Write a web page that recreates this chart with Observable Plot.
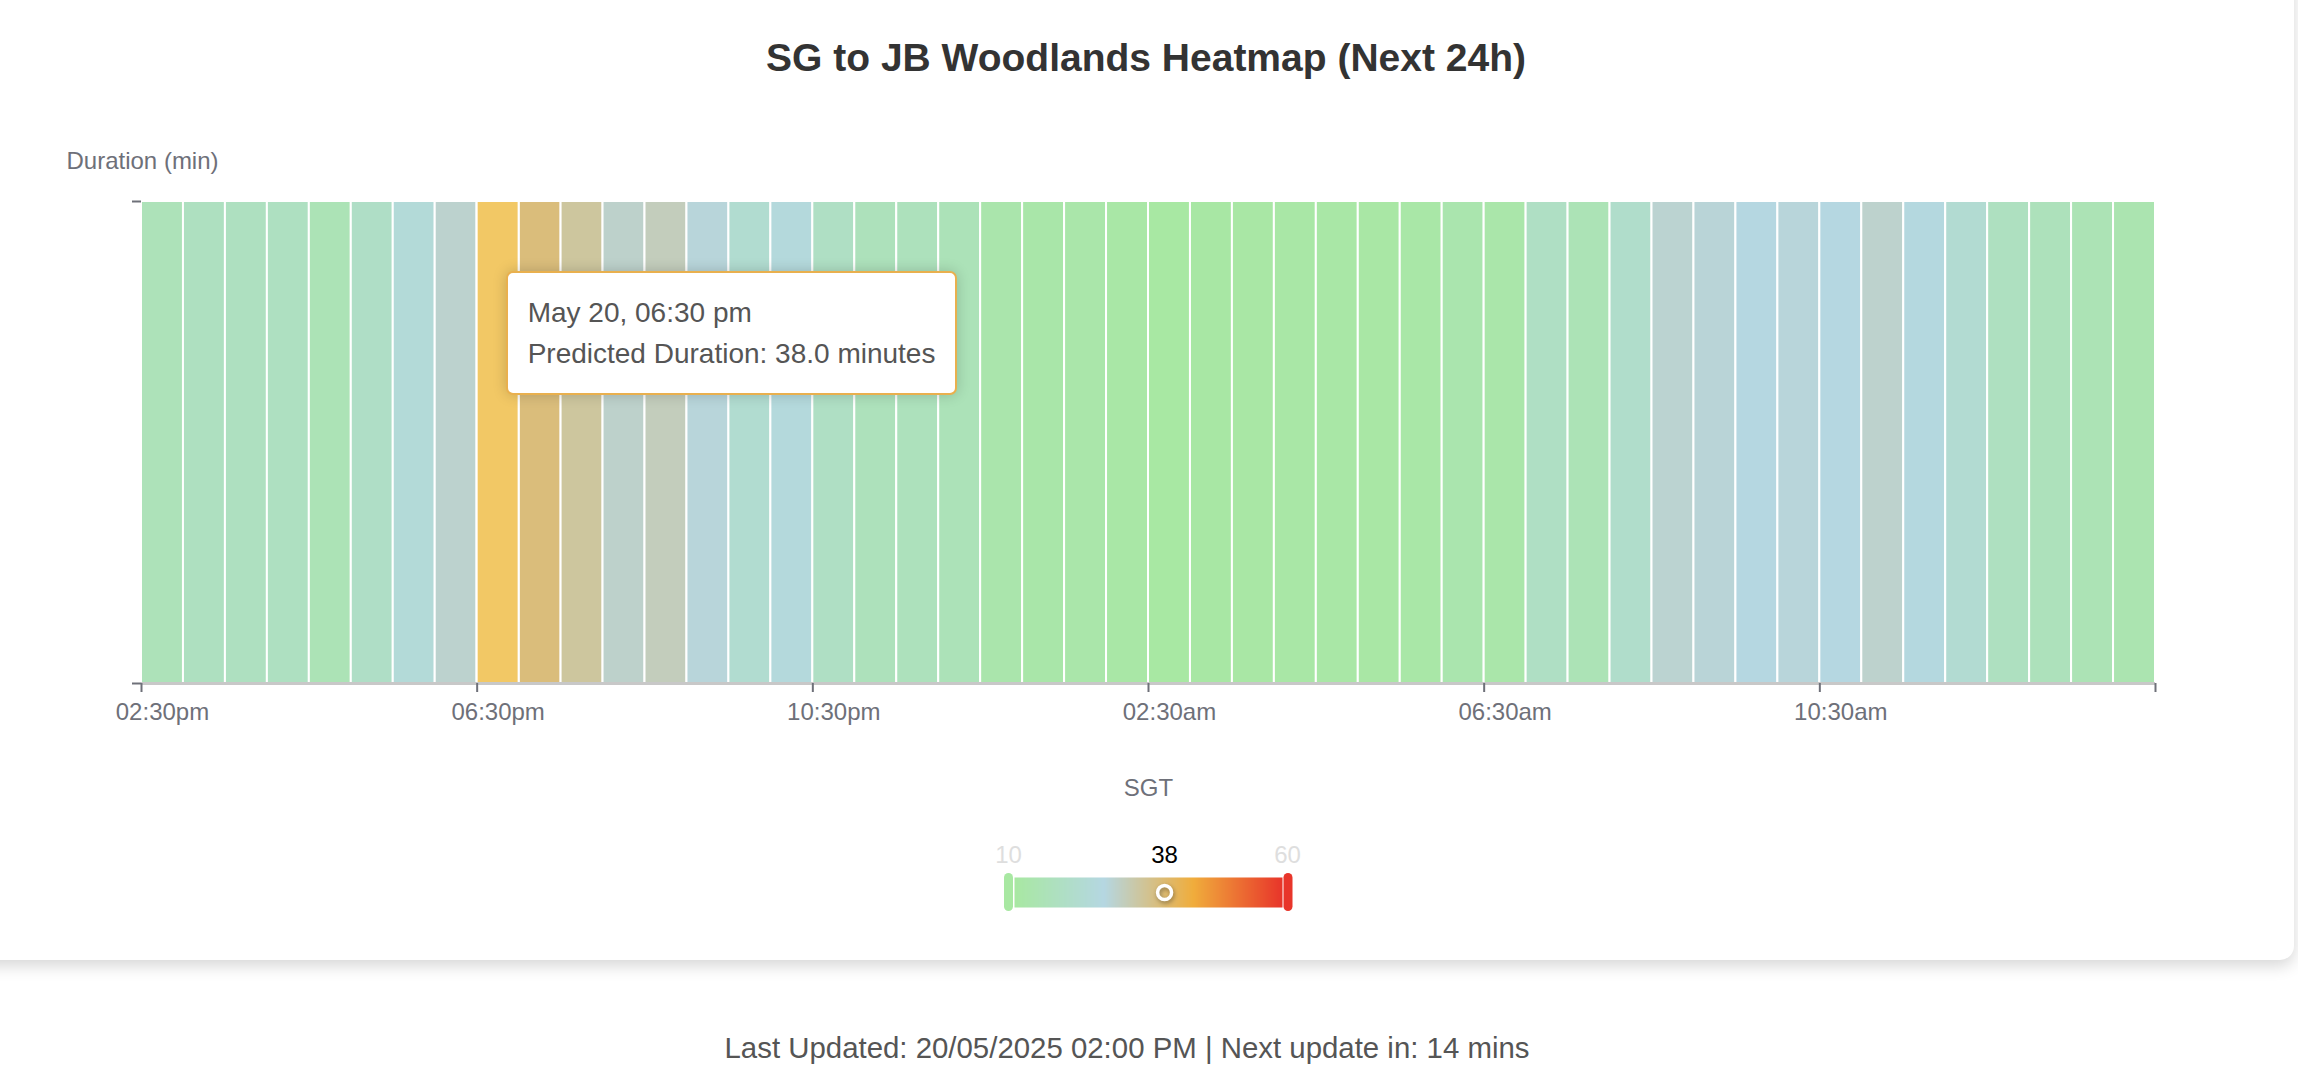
<!DOCTYPE html>
<html>
<head>
<meta charset="utf-8">
<script src="https://cdn.jsdelivr.net/npm/d3@7"></script>
<script src="https://cdn.jsdelivr.net/npm/@observablehq/plot@0.6"></script>
<style>
  html, body { margin: 0; padding: 0; background: #fff; width: 2298px; height: 1076px; overflow: hidden;
    font-family: "Liberation Sans", Arial, Helvetica, sans-serif; }
  #card { position: absolute; left: -30px; top: -40px; width: 2324px; height: 1000px; background: #fff;
    border-radius: 14px; box-shadow: 0 6px 16px rgba(0,0,0,0.16); }
  #title { position: absolute; left: 0; top: 38px; width: 2292px; text-align: center; font-size: 39px;
    font-weight: bold; color: #333; line-height: 40px; }
  #chart { position: absolute; left: 0; top: 148px; }
  #legend { position: absolute; left: 989px; top: 830px; }
  #tooltip { position: absolute; top: 271px; background: #fff; border: 2px solid #e9b04e; border-radius: 7px;
    box-shadow: 0 0 14px rgba(0,0,0,0.18); padding: 19px 20px; font-size: 28px; line-height: 41px; color: #555;
    white-space: nowrap; }
  #footer { position: absolute; left: 0; top: 1028px; width: 2254px; text-align: center; font-size: 29.4px;
    line-height: 40px; color: #555; }
</style>
</head>
<body>
<div id="card"></div>
<div id="title"></div>
<div id="chart"></div>
<div id="legend"></div>
<div id="tooltip"></div>
<div id="footer"></div>
<script>
// ---- data ----
const titleText = "SG to JB Woodlands Heatmap (Next 24h)";
const yLabel = "Duration (min)";
const xLabel = "SGT";
const footerText = "Last Updated: 20/05/2025 02:00 PM | Next update in: 14 mins";

const slotStarts = [
  "2025-05-20T14:30","2025-05-20T15:00","2025-05-20T15:30","2025-05-20T16:00","2025-05-20T16:30","2025-05-20T17:00",
  "2025-05-20T17:30","2025-05-20T18:00","2025-05-20T18:30","2025-05-20T19:00","2025-05-20T19:30","2025-05-20T20:00",
  "2025-05-20T20:30","2025-05-20T21:00","2025-05-20T21:30","2025-05-20T22:00","2025-05-20T22:30","2025-05-20T23:00",
  "2025-05-20T23:30","2025-05-21T00:00","2025-05-21T00:30","2025-05-21T01:00","2025-05-21T01:30","2025-05-21T02:00",
  "2025-05-21T02:30","2025-05-21T03:00","2025-05-21T03:30","2025-05-21T04:00","2025-05-21T04:30","2025-05-21T05:00",
  "2025-05-21T05:30","2025-05-21T06:00","2025-05-21T06:30","2025-05-21T07:00","2025-05-21T07:30","2025-05-21T08:00",
  "2025-05-21T08:30","2025-05-21T09:00","2025-05-21T09:30","2025-05-21T10:00","2025-05-21T10:30","2025-05-21T11:00",
  "2025-05-21T11:30","2025-05-21T12:00","2025-05-21T12:30","2025-05-21T13:00","2025-05-21T13:30","2025-05-21T14:00"
];
const durations = [
  16, 17.8, 17.8, 18, 15.2, 19.4, 24, 28.7, 38, 37, 33.5, 29,
  30.5, 27.5, 22, 25, 18.9, 16.5, 16.8, 15.7, 12.6, 11.8, 12, 11,
  10.3, 10.5, 10.8, 11, 11, 10.8, 11.3, 13, 12, 18.9, 15.2, 20.7,
  28.4, 27.8, 26.5, 27.5, 26.8, 28.8, 26, 22.5, 17.8, 16.5, 15, 13.6
];
const slotMinutes = 30;
const tickTimes = ["2025-05-20T14:30","2025-05-20T18:30","2025-05-20T22:30","2025-05-21T02:30","2025-05-21T06:30","2025-05-21T10:30","2025-05-21T14:30"];
const tickLabels = ["02:30pm","06:30pm","10:30pm","02:30am","06:30am","10:30am"];
const colorStops = [10, 26.67, 43.33, 60];
const colorRange = ["#a8e8a2", "#b5d7e2", "#f0ad3c", "#e8352a"];
const legendEnds = [10, 60];
const hoveredSlot = "2025-05-20T18:30";

// ---- build ----
const parse = s => new Date(s + ":00Z");
const data = slotStarts.map((s, i) => {
  const start = parse(s);
  return {start, end: d3.utcMinute.offset(start, slotMinutes), duration: durations[i]};
});
const ticks = tickTimes.map(parse);
const labelTimes = ticks.slice(0, tickLabels.length).map(d => d3.utcMinute.offset(d, slotMinutes / 2));
const labelMap = new Map(labelTimes.map((d, i) => [+d, tickLabels[i]]));
const hovered = data.find(d => +d.start === +parse(hoveredSlot));
const colorOpt = {type: "linear", domain: colorStops, range: colorRange, interpolate: "rgb"};
const axisColor = "#6E7079";
const font = '"Liberation Sans", Arial, Helvetica, sans-serif';

document.getElementById("title").textContent = titleText;
document.getElementById("footer").textContent = footerText;

const chart = Plot.plot({
  width: 2298, height: 665,
  marginLeft: 141, marginRight: 143, marginTop: 53, marginBottom: 130,
  style: {fontFamily: font, background: "transparent", overflow: "visible"},
  x: {type: "utc", domain: [data[0].start, data[data.length - 1].end]},
  y: {domain: [0, 1]},
  color: colorOpt,
  marks: [
    Plot.rect(data, {x1: "start", x2: "end", y1: 0, y2: 1, fill: "duration", stroke: "#fff", strokeWidth: 2}),
    Plot.rect([hovered], {x1: "start", x2: "end", y1: 0, y2: 1, fill: "#f2c865", stroke: "#fff", strokeWidth: 2}),
    Plot.ruleY([0], {stroke: "#c8c8c8", strokeWidth: 3}),
    Plot.axisX(ticks, {tickSize: 9, tickFormat: () => "", stroke: axisColor, strokeWidth: 2, label: null}),
    Plot.axisX(labelTimes, {tickSize: 0, tickPadding: 19, tickFormat: d => labelMap.get(+d), fontSize: 24,
      fill: axisColor, label: xLabel, labelAnchor: "center", labelArrow: "none", labelOffset: 112}),
    Plot.axisY([0, 1], {tickSize: 9, tickFormat: () => "", stroke: axisColor, strokeWidth: 2, fontSize: 24,
      fill: axisColor, label: yLabel, labelArrow: "none", labelOffset: 75})
  ]
});
document.getElementById("chart").appendChild(chart);

// tooltip
const fmtDate = d3.utcFormat("%b %d, %I:%M %p");
const tip = document.getElementById("tooltip");
tip.innerHTML = "";
const l1 = document.createElement("div");
l1.textContent = fmtDate(hovered.start).replace(/AM$/, "am").replace(/PM$/, "pm");
const l2 = document.createElement("div");
l2.textContent = `Predicted Duration: ${hovered.duration.toFixed(1)} minutes`;
tip.appendChild(l1); tip.appendChild(l2);
tip.style.left = (chart.scale("x").apply(hovered.start) + 29) + "px";

// legend (visual map)
const legend = Plot.plot({
  width: 320, height: 100,
  marginLeft: 25, marginRight: 27, marginTop: 47, marginBottom: 23,
  style: {fontFamily: font, background: "transparent", overflow: "visible"},
  x: {domain: [10, 60], axis: null},
  y: {domain: [0, 1], axis: null},
  color: colorOpt,
  marks: [
    Plot.raster({x1: 10, x2: 60, y1: 0, y2: 1, fill: (x, y) => x, width: 268, height: 1, imageRendering: "auto"}),
    Plot.tickX([legendEnds[0]], {x: d => d, stroke: d => d, strokeWidth: 9, strokeLinecap: "round", dx: -6, insetTop: 0.5, insetBottom: 0.5}),
    Plot.tickX([legendEnds[1]], {x: d => d, stroke: d => d, strokeWidth: 9, strokeLinecap: "round", dx: 5.5, insetTop: 0.5, insetBottom: 0.5}),
    Plot.dot([hovered.duration], {x: d => d, y: 0.5, r: 7, stroke: "#fff", strokeWidth: 3.5, fill: "none"}),
    Plot.text([legendEnds[0]], {x: d => d, y: 1, text: d => String(d), dx: -6, dy: -22, fill: "#dedede", fontSize: 24}),
    Plot.text([legendEnds[1]], {x: d => d, y: 1, text: d => String(d), dx: 5, dy: -22, fill: "#dedede", fontSize: 24}),
    Plot.text([hovered.duration], {x: d => d, y: 1, text: d => String(Math.round(d)), dy: -22, fill: "#000", fontSize: 24})
  ]
});
document.getElementById("legend").appendChild(legend);
legend.querySelectorAll("circle").forEach(c => c.style.filter = "drop-shadow(1px 2px 2px rgba(0,0,0,0.35))");
</script>
</body>
</html>
